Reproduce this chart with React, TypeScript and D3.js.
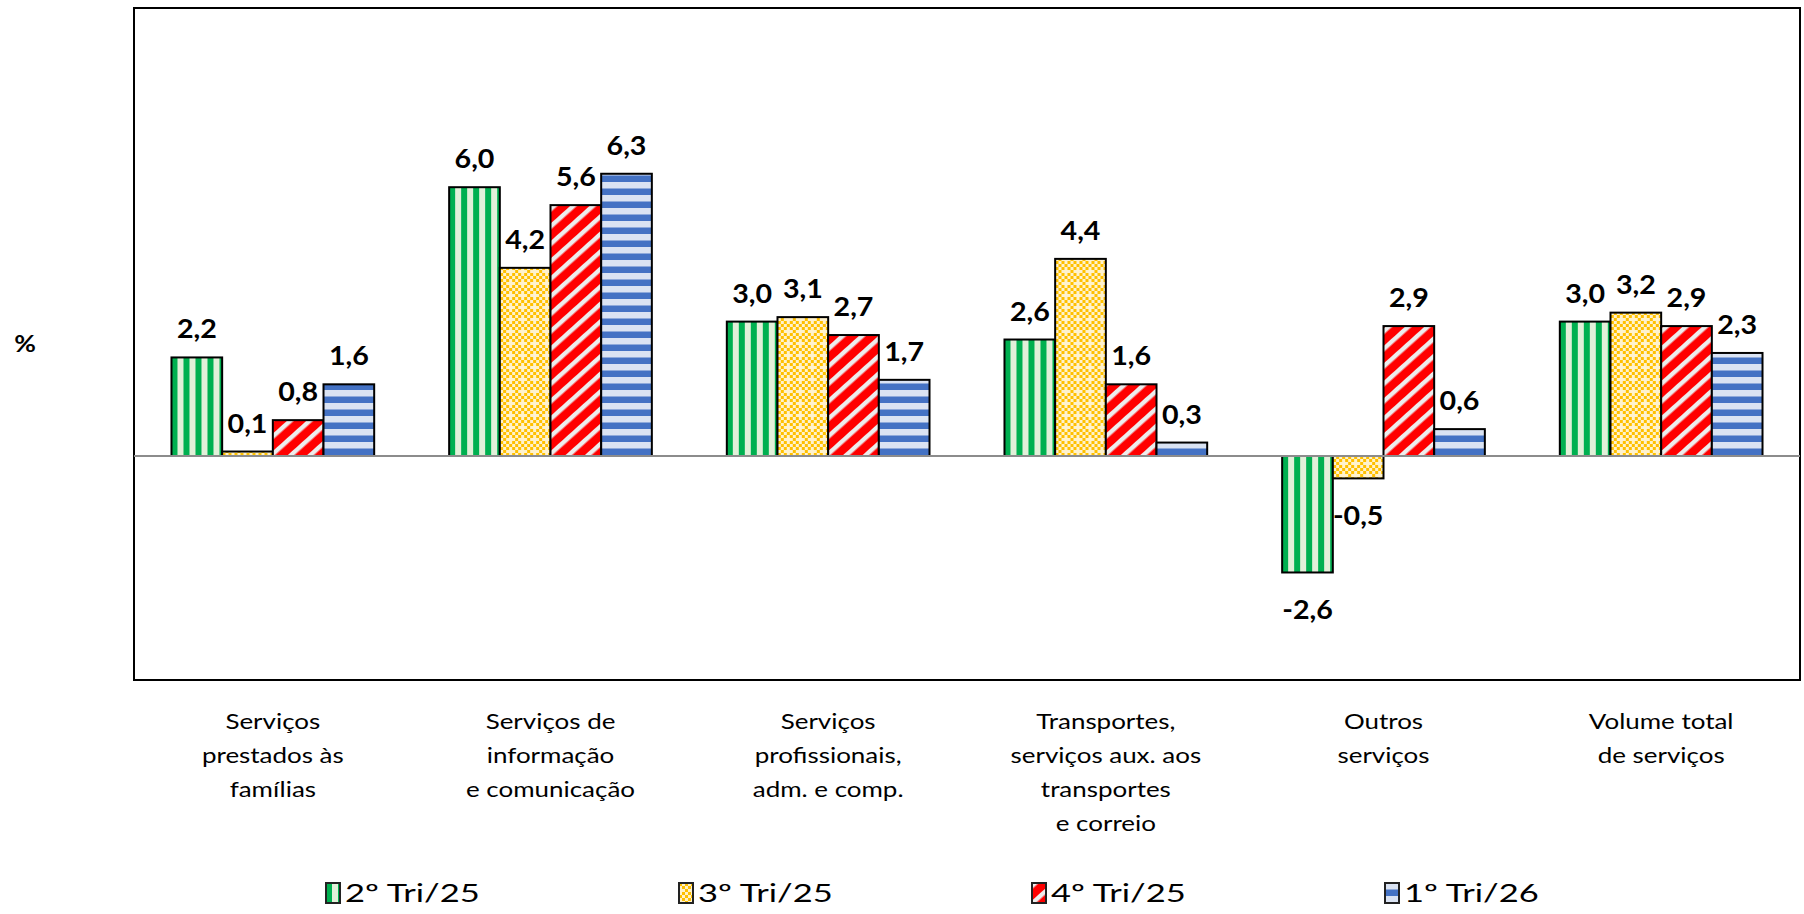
import React from "react";
import * as d3 from "d3";

// categories (each split into the lines shown under the axis)
const categories = [
  ["Serviços", "prestados às", "famílias"],
  ["Serviços de", "informação", "e comunicação"],
  ["Serviços", "profissionais,", "adm. e comp."],
  ["Transportes,", "serviços aux. aos", "transportes", "e correio"],
  ["Outros", "serviços"],
  ["Volume total", "de serviços"],
];

const seriesNames = ["2º Tri/25", "3º Tri/25", "4º Tri/25", "1º Tri/26"];

const tri2_25 = [2.2, 6.0, 3.0, 2.6, -2.6, 3.0];
const tri3_25 = [0.1, 4.2, 3.1, 4.4, -0.5, 3.2];
const tri4_25 = [0.8, 5.6, 2.7, 1.6, 2.9, 2.9];
const tri1_26 = [1.6, 6.3, 1.7, 0.3, 0.6, 2.3];

const series = [tri2_25, tri3_25, tri4_25, tri1_26];
const patternIds = ["pGreen", "pYellow", "pRed", "pBlue"];

const W = 1804;
const H = 914;
const FONT = "Lato, 'Open Sans', sans-serif";

const fmt = (v: number) => v.toFixed(1).replace(".", ",");

// the original text is drawn horizontally stretched
const Stretch = ({ x, y, sx, children }: { x: number; y: number; sx: number; children: React.ReactNode }) => (
  <g transform={`translate(${x},${y}) scale(${sx},1)`}>{children}</g>
);

export default function App() {
  const left = 134;
  const right = 1800;
  const top = 8;
  const bottom = 680;

  const y = d3.scaleLinear().domain([-5, 10]).range([bottom, top]);
  const x0 = d3
    .scaleBand<number>()
    .domain(categories.map((_, i) => i))
    .range([left, right])
    .paddingInner(0)
    .paddingOuter(0);
  // Excel-like gap: bar group takes ~73% of a category slot
  const groupW = x0.bandwidth() * 0.73;
  const x1 = d3
    .scaleBand<number>()
    .domain(series.map((_, i) => i))
    .range([0, groupW]);

  const y0 = y(0);

  return (
    <svg
      width={W}
      height={H}
      style={{ position: "absolute", left: 0, top: 0, background: "#fff" }}
      fontFamily={FONT}
    >
      <defs>
        {/* green vertical stripes */}
        <pattern id="pGreen" width={12} height={12} patternUnits="userSpaceOnUse">
          <rect width={12} height={12} fill="#E2F0D9" />
          <rect x={0} width={6} height={12} fill="#00B050" />
        </pattern>
        {/* yellow zigzag dots */}
        <pattern id="pYellow" width={12} height={12} patternUnits="userSpaceOnUse">
          <rect width={12} height={12} fill="#FFF2CC" />
          {[
            [0, 0], [3, 3], [6, 6], [9, 3], [3, 9], [9, 9], [6, 0],
          ].map(([px, py], k) => (
            <rect key={k} x={px} y={py} width={3} height={3} fill="#FFC000" />
          ))}
        </pattern>
        {/* red wide upward diagonal */}
        <pattern
          id="pRed"
          width={13}
          height={13}
          patternUnits="userSpaceOnUse"
          patternTransform="rotate(-42)"
        >
          <rect width={13} height={13} fill="#FF0000" />
          <rect x={0} y={0} width={13} height={4.5} fill="#EDEDED" />
        </pattern>
        {/* blue horizontal stripes */}
        <pattern id="pBlue" width={13} height={13} patternUnits="userSpaceOnUse">
          <rect width={13} height={13} fill="#DAE3F3" />
          <rect y={6.5} width={13} height={6.5} fill="#4472C4" />
        </pattern>
      </defs>

      {/* plot frame */}
      <rect
        x={left}
        y={top}
        width={right - left}
        height={bottom - top}
        fill="none"
        stroke="#000"
        strokeWidth={2}
      />

      <Stretch x={25} y={352} sx={1.2}>
        <text fontSize={22} fontWeight="bold" textAnchor="middle">
          %
        </text>
      </Stretch>

      {/* bars */}
      {categories.map((_, ci) => {
        const gx = (x0(ci) as number) + (x0.bandwidth() - groupW) / 2;
        return (
          <g key={ci} transform={`translate(${gx},0)`}>
            {series.map((s, si) => {
              const v = s[ci];
              const bx = x1(si) as number;
              const bw = x1.bandwidth();
              const yTop = Math.min(y(v), y0);
              const h = Math.abs(y(v) - y0);
              return (
                <g key={si}>
                  <rect
                    x={bx}
                    y={yTop}
                    width={bw}
                    height={h}
                    fill={`url(#${patternIds[si]})`}
                    stroke="#000"
                    strokeWidth={2}
                  />
                  <Stretch x={bx + bw / 2} y={v >= 0 ? y(v) - 19 : y(v) + 47} sx={1.1}>
                    <text textAnchor="middle" fontSize={26} fontWeight="bold" fill="#000">
                      {fmt(v)}
                    </text>
                  </Stretch>
                </g>
              );
            })}
          </g>
        );
      })}

      {/* zero line */}
      <line x1={left} x2={right} y1={y0} y2={y0} stroke="#8C8C8C" strokeWidth={2} />

      {/* category labels */}
      {categories.map((lines, ci) => (
        <Stretch key={ci} x={(x0(ci) as number) + x0.bandwidth() / 2} y={729} sx={1.18}>
          <text textAnchor="middle" fontSize={22} fill="#000">
            {lines.map((ln, li) => (
              <tspan key={li} x={0} y={li * 34}>
                {ln}
              </tspan>
            ))}
          </text>
        </Stretch>
      ))}

      {/* legend */}
      {seriesNames.map((name, si) => {
        const lx = 326 + si * 353;
        return (
          <g key={si} transform={`translate(${lx},883)`}>
            <rect
              width={14}
              height={20}
              fill={`url(#${patternIds[si]})`}
              stroke="#222"
              strokeWidth={2}
            />
            <Stretch x={19} y={19} sx={1.38}>
              <text fontSize={25} fill="#000">
                {name}
              </text>
            </Stretch>
          </g>
        );
      })}
    </svg>
  );
}
